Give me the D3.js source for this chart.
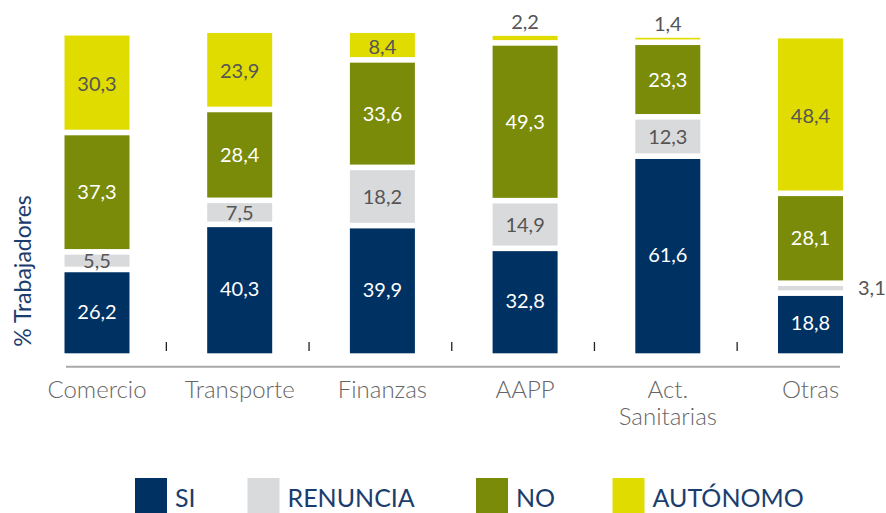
<!DOCTYPE html>
<html>
<head>
<meta charset="utf-8">
<script src="https://cdnjs.cloudflare.com/ajax/libs/d3/7.8.5/d3.min.js"></script>
<style>
  body { margin: 0; background: #fff; }
  svg { display: block; font-family: Lato, "Open Sans", sans-serif; }
</style>
</head>
<body>
<div id="chart"></div>
<script>
const categories = ["Comercio", "Transporte", "Finanzas", "AAPP", "Act. Sanitarias", "Otras"];
const si = [26.2, 40.3, 39.9, 32.8, 61.6, 18.8];
const renuncia = [5.5, 7.5, 18.2, 14.9, 12.3, 3.1];
const no = [37.3, 28.4, 33.6, 49.3, 23.3, 28.1];
const autonomo = [30.3, 23.9, 8.4, 2.2, 1.4, 48.4];
const seriesKeys = ["si", "renuncia", "no", "autonomo"];
const seriesNames = ["SI", "RENUNCIA", "NO", "AUTÓNOMO"];

const colors = ["#003163", "#d9dadc", "#798b08", "#e0dc00"];
const labelColors = ["#fff", "#555", "#fff", "#555"];

const width = 886, height = 513;
const gap = 5.6;

const table = categories.map((c, i) => ({
    cat: c, si: si[i], renuncia: renuncia[i], no: no[i], autonomo: autonomo[i]
}));

const svg = d3.select('#chart')
    .append('svg')
    .attr('width', width)
    .attr('height', height);

const x = d3.scaleBand()
    .domain(categories)
    .range([64.5, 843])
    .paddingInner(0.5445)
    .paddingOuter(0);

const y = d3.scaleLinear()
    .domain([0, 100])
    .range([353.3, 33.3]);

const fmt = v => d3.format(".1f")(v).replace(".", ",");

const stacked = d3.stack().keys(seriesKeys)(table);

// bars
stacked.forEach((layer, k) => {
    const g = svg.append('g');
    g.selectAll('rect')
        .data(layer)
        .enter().append('rect')
        .attr('x', d => x(d.data.cat))
        .attr('width', x.bandwidth())
        .attr('y', d => y(d[1]) + (k < 3 ? gap / 2 : 0))
        .attr('height', d => Math.max(0, y(d[0]) - (k > 0 ? gap / 2 : 0) - y(d[1]) - (k < 3 ? gap / 2 : 0)))
        .attr('fill', colors[k]);

    g.selectAll('text')
        .data(layer)
        .enter().append('text')
        .attr('font-size', 20)
        .attr('text-anchor', d => (d[1] - d[0] < 4 && k < 3) ? 'start' : 'middle')
        .attr('x', d => {
            if (d[1] - d[0] < 4 && k < 3) return x(d.data.cat) + x.bandwidth() + 15;
            return x(d.data.cat) + x.bandwidth() / 2;
        })
        .attr('y', d => {
            if (d[1] - d[0] < 4 && k === 3) return y(d[1]) - 7;
            return (y(d[0]) + y(d[1])) / 2;
        })
        .attr('dy', d => (d[1] - d[0] < 4 && k === 3) ? 0 : '0.36em')
        .attr('fill', d => (d[1] - d[0] < 4) ? '#555' : labelColors[k])
        .text(d => fmt(d[1] - d[0]));
});

// baseline axis
svg.append('line')
    .attr('x1', 66).attr('x2', 840)
    .attr('y1', 366.7).attr('y2', 366.7)
    .attr('stroke', '#a9a9a9')
    .attr('stroke-width', 2);

// small ticks between categories
const tickPos = categories.slice(1).map(c => x(c) - x.step() * x.paddingInner() / 2);
svg.selectAll('.tick')
    .data(tickPos)
    .enter().append('line')
    .attr('x1', d => d - 2).attr('x2', d => d - 2)
    .attr('y1', 342).attr('y2', 351)
    .attr('stroke', '#222')
    .attr('stroke-width', 1.3);

// category labels
svg.selectAll('.cat')
    .data(categories)
    .enter().append('text')
    .attr('text-anchor', 'middle')
    .attr('font-size', 24)
    .attr('font-weight', 300)
    .attr('fill', '#666')
    .attr('transform', d => `translate(${x(d) + x.bandwidth() / 2},398)`)
    .each(function(d) {
        const parts = d === "Act. Sanitarias" ? ["Act.", "Sanitarias"] : [d];
        d3.select(this).selectAll('tspan')
            .data(parts)
            .enter().append('tspan')
            .attr('x', 0)
            .attr('dy', (p, i) => i === 0 ? 0 : 27)
            .text(p => p);
    });

// Y Axis Label
svg.append("text")
    .attr("text-anchor", "middle")
    .attr("transform", "rotate(-90)")
    .attr("x", -271)
    .attr("y", 31)
    .attr("font-size", 23)
    .attr("fill", "#1b3d6e")
    .text("% Trabajadores");

// legend
const legendX = [135, 247.5, 476, 612.5];
const legend = svg.selectAll('.legend')
    .data(seriesNames)
    .enter().append('g')
    .attr('transform', (d, i) => `translate(${legendX[i]},478)`);
legend.append('rect')
    .attr('width', 32)
    .attr('height', 35)
    .attr('fill', (d, i) => colors[i]);
legend.append('text')
    .attr('x', 40)
    .attr('y', 29)
    .attr('font-size', 25)
    .attr('fill', '#1b3d6e')
    .text(d => d);
</script>
</body>
</html>
